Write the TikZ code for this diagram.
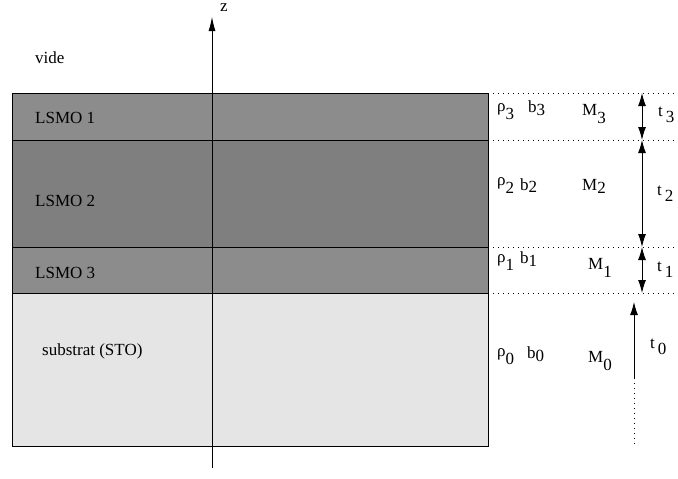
\documentclass[tikz,border=0pt]{standalone}
\usepackage{fontspec}
\setmainfont{Liberation Serif}
\usetikzlibrary{arrows.meta}
\definecolor{layerA}{RGB}{140,140,140}
\definecolor{layerB}{RGB}{127,127,127}
\definecolor{subst}{RGB}{229,229,229}
\newcommand{\sym}[3]{#1\raisebox{-#3pt}{#2}}
\begin{document}
\begin{tikzpicture}[x=1pt,y=-1pt,
  layer/.style={draw=black, line width=0.8pt, minimum width=476pt, inner sep=0pt, outer sep=0pt},
  lbl/.style={anchor=base west, inner sep=0pt, font=\fontsize{17}{20}\selectfont},
  sy/.style={anchor=base west, inner sep=0pt, font=\fontsize{17}{20}\selectfont},
  guide/.style={line width=0.6pt, dash pattern=on 1pt off 4pt},
  dim/.style={line width=1pt, {Latex[length=13pt,width=8pt]}-{Latex[length=13pt,width=8pt]}},
  axis/.style={line width=0.8pt, -{Latex[length=14pt,width=7pt]}}]
\useasboundingbox (0,0) rectangle (678,479);
% layers
\node[layer, fill=layerA, minimum height=47pt] (l1) at (250,116.5) {};
\node[layer, fill=layerB, minimum height=107pt] (l2) at (250,193.5) {};
\node[layer, fill=layerA, minimum height=46pt] (l3) at (250,270) {};
\node[layer, fill=subst, minimum height=153pt] (l0) at (250,369.5) {};
% labels
\node[lbl] (vide) at (35,63) {vide};
\node[lbl] (n1) at (35,123) {LSMO 1};
\node[lbl] (n2) at (35,206) {LSMO 2};
\node[lbl] (n3) at (35,278) {LSMO 3};
\node[lbl] (n0) at (42,355) {substrat (STO)};
% z axis
\coordinate (zb) at (212,468);
\coordinate (zt) at (212,17);
\draw[axis] (zb) -- (zt);
\node[lbl] (zl) at (220,12) {z};
% guides
\coordinate (g3a) at (488,93);  \coordinate (g3b) at (678,93);
\coordinate (g2a) at (488,140); \coordinate (g2b) at (678,140);
\coordinate (g1a) at (488,247); \coordinate (g1b) at (678,247);
\coordinate (g0a) at (488,293); \coordinate (g0b) at (678,293);
\draw[guide] (g3a) -- (g3b);
\draw[guide] (g2a) -- (g2b);
\draw[guide] (g1a) -- (g1b);
\draw[guide] (g0a) -- (g0b);
% thickness arrows
\coordinate (d3) at (642,93);
\coordinate (d2) at (642,140);
\coordinate (d1) at (642,247);
\coordinate (d0) at (642,293);
\draw[dim] (d3) -- (d2);
\draw[dim] (d2) -- (d1);
\draw[dim] (d1) -- (d0);
\coordinate (t0top) at (634,302);
\coordinate (t0mid) at (634,378);
\coordinate (t0bot) at (634,447);
\draw[line width=1pt, -{Latex[length=13pt,width=8pt]}] (t0mid) -- (t0top);
\draw[guide] (t0mid) -- (t0bot);
% symbols
\node[sy] (r3) at (497,111) {\sym{ρ}{3}{8}};
\node[sy] (b3) at (528,112) {\sym{b}{3}{3}};
\node[sy] (m3) at (582,115) {\sym{M}{3}{8}};
\node[sy] (tt3) at (658,116) {\sym{t\,}{3}{6}};
\node[sy] (r2) at (497,185) {\sym{ρ}{2}{8}};
\node[sy] (b2) at (520,190) {\sym{b}{2}{2}};
\node[sy] (m2) at (582,190) {\sym{M}{2}{3}};
\node[sy] (tt2) at (657,195) {\sym{t\,}{2}{6}};
\node[sy] (r1) at (497,262) {\sym{ρ}{1}{8}};
\node[sy] (b1) at (520,263) {\sym{b}{1}{3}};
\node[sy] (m1) at (588,269) {\sym{M}{1}{8}};
\node[sy] (tt1) at (657,271) {\sym{t\,}{1}{6}};
\node[sy] (r0) at (497,356) {\sym{ρ}{0}{8}};
\node[sy] (b0) at (527,358) {\sym{b}{0}{3}};
\node[sy] (m0) at (588,362) {\sym{M}{0}{8}};
\node[sy] (tt0) at (650,348) {\sym{t\,}{0}{6}};
\end{tikzpicture}
\end{document}
